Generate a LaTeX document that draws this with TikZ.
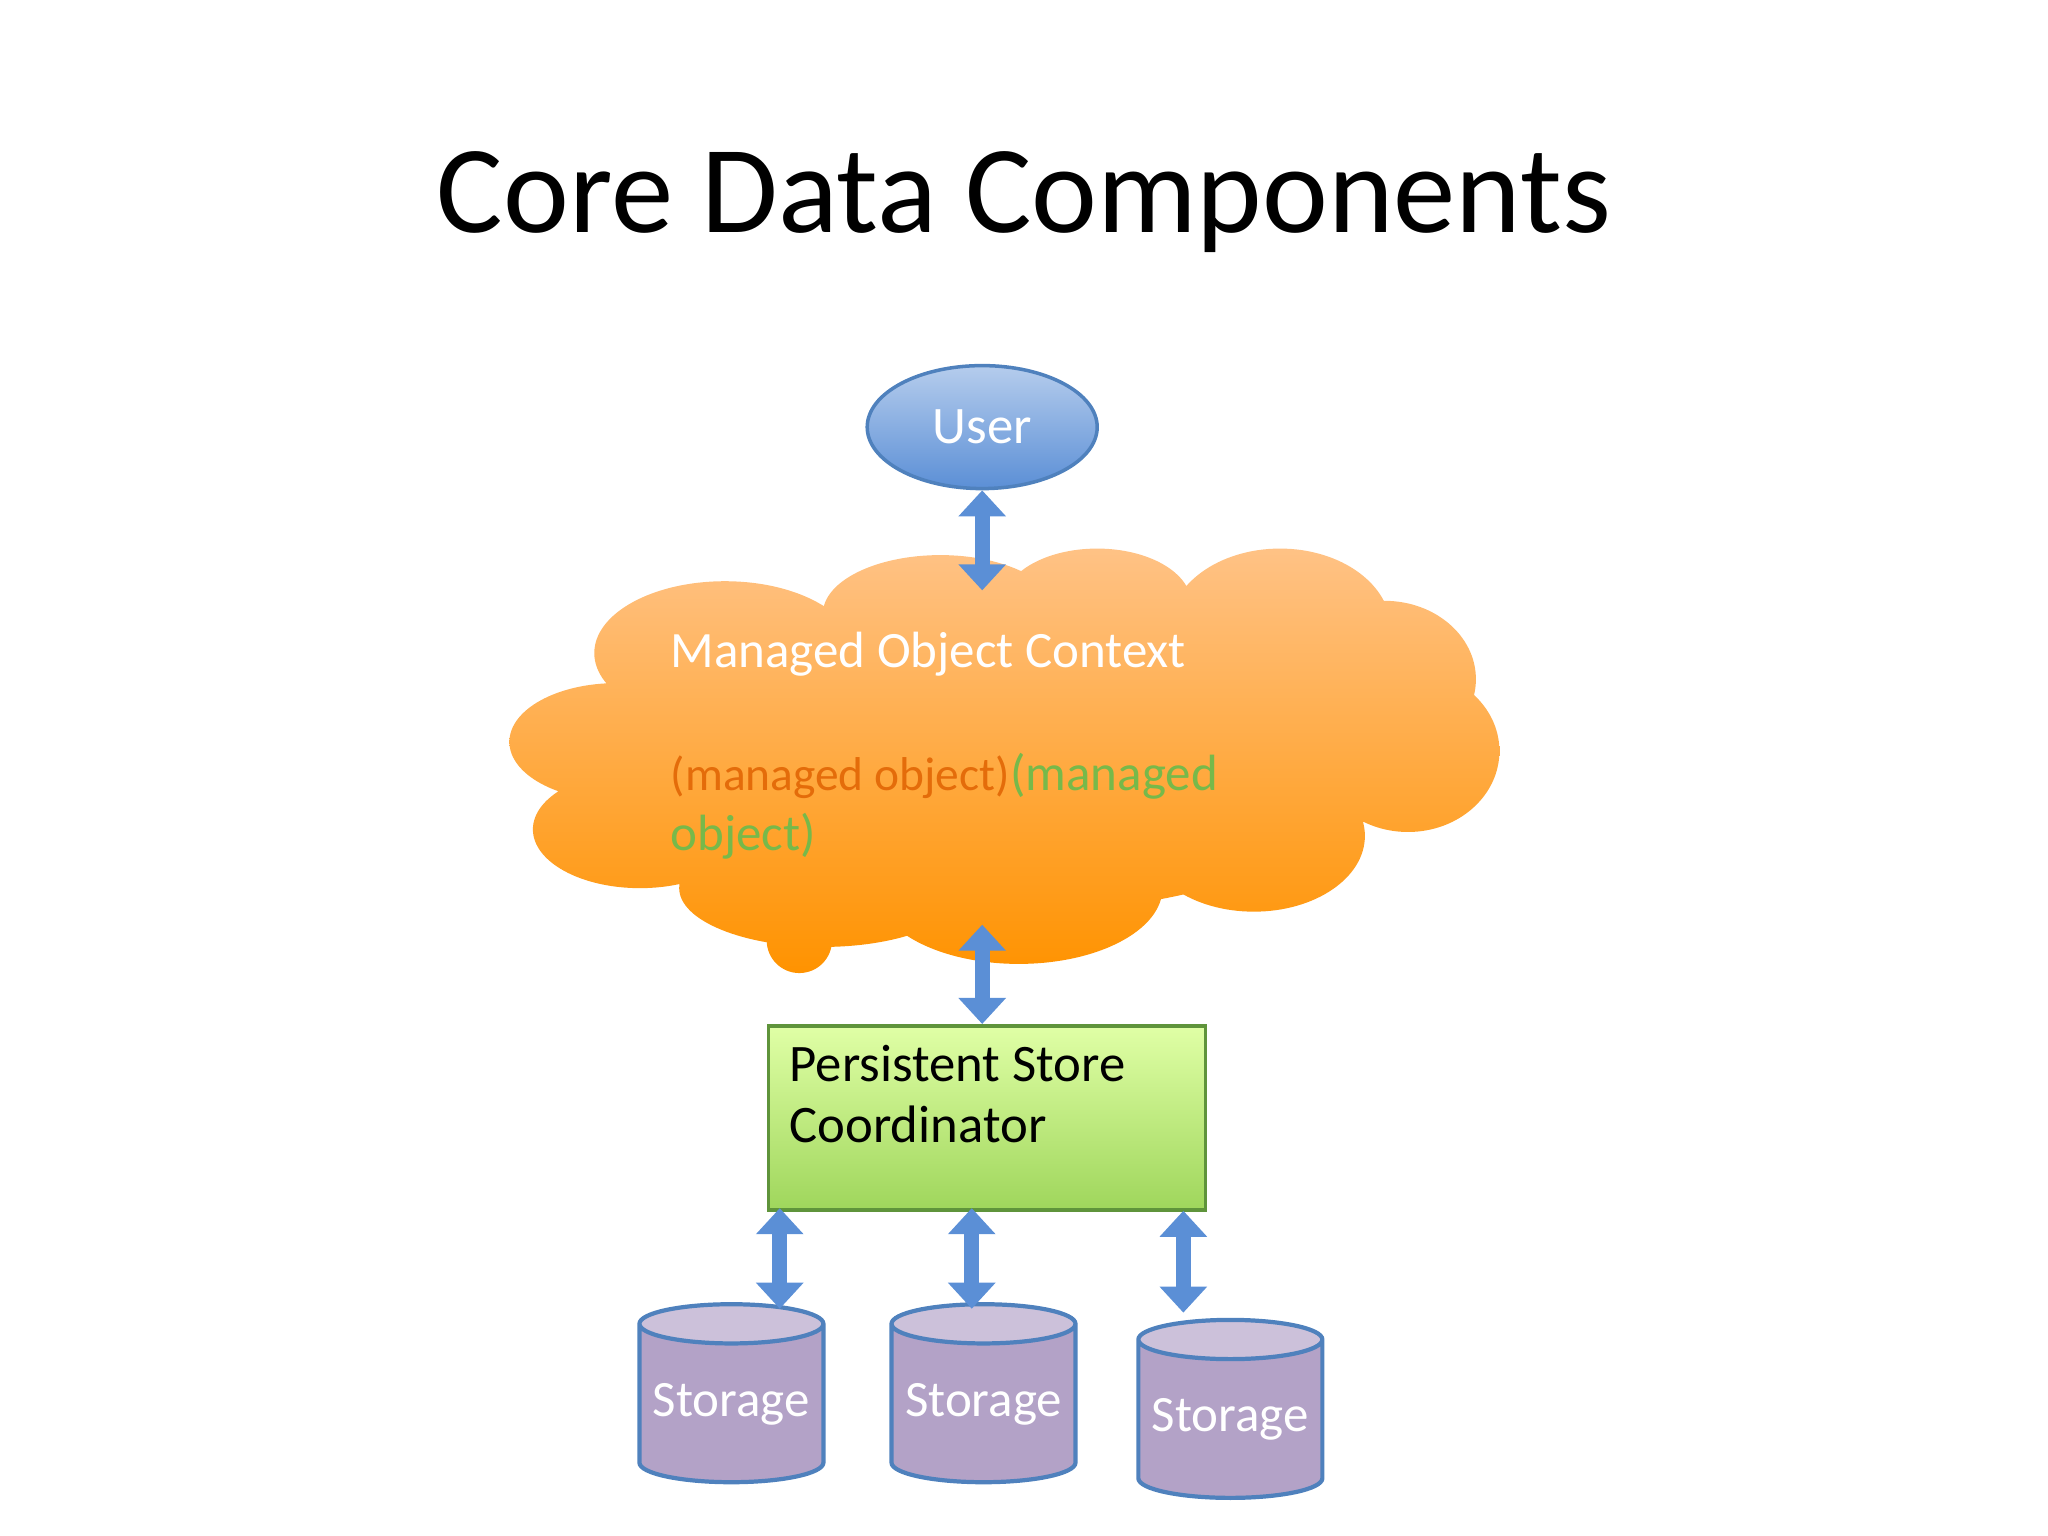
\documentclass[tikz,border=0pt]{standalone}
\usepackage{fontspec}
\setmainfont{Carlito}
\usetikzlibrary{shapes.geometric,arrows.meta}
\definecolor{arrowblue}{HTML}{5B8FD6}
\definecolor{cylfill}{HTML}{B3A2C7}
\definecolor{cyltop}{HTML}{CCC1DA}
\definecolor{cylborder}{HTML}{4F81BD}
\definecolor{moorange}{HTML}{E46C0A}
\definecolor{mogreen}{HTML}{77B94A}
\begin{document}
\begin{tikzpicture}[x=0.01306cm,y=-0.01306cm,
  conn/.style={arrowblue,line width=0.15cm,{Triangle[length=0.26cm,width=0.46cm]}-{Triangle[length=0.26cm,width=0.46cm]}},
  store/.style={cylinder,shape border rotate=90,aspect=0.25,minimum width=1.84cm,minimum height=1.78cm,inner sep=0pt,
    draw=cylborder,line width=1.2pt,cylinder uses custom fill,cylinder body fill=cylfill,cylinder end fill=cyltop,
    text=white,font=\fontsize{14.5}{18}\selectfont}]
\useasboundingbox (0,0) rectangle (1568,1176);
\node[anchor=base,font=\fontsize{35.5}{42}\selectfont] (title) at (784,178) {Core Data Components};
% cloud
\shade[top color=orange!45!white!95!orange,bottom color=orange!85!yellow,draw=none]
 (555,500) ellipse [x radius=100,y radius=55]
 (720,470) ellipse [x radius=90,y radius=45]
 (840,462) ellipse [x radius=72,y radius=42]
 (980,482) ellipse [x radius=85,y radius=62]
 (1060,520) ellipse [x radius=70,y radius=60]
 (1078,575) ellipse [x radius=70,y radius=62]
 (472,568) ellipse [x radius=82,y radius=45]
 (490,635) ellipse [x radius=82,y radius=45]
 (630,680) ellipse [x radius=110,y radius=45]
 (780,680) ellipse [x radius=110,y radius=58]
 (960,640) ellipse [x radius=85,y radius=58]
 (760,580) ellipse [x radius=300,y radius=120]
 (612,720) circle [radius=25];
\node[anchor=base west,inner sep=0,text=white,font=\fontsize{14.5}{18}\selectfont] (moc) at (513,511) {Managed Object Context};
\node[anchor=base west,inner sep=0,text=moorange,font=\fontsize{13.5}{17}\selectfont] (mo1) at (513,605) {(managed object)};
\node[anchor=base west,inner sep=0,text=mogreen,font=\fontsize{14.5}{18}\selectfont] (mo2) at (773,605) {(managed};
\node[anchor=base west,inner sep=0,text=mogreen,font=\fontsize{14.5}{18}\selectfont] (mo3) at (513,651) {object)};
% user
\node[ellipse,minimum width=2.3cm,minimum height=1.23cm,draw=cylborder,line width=1pt,
  top color=arrowblue!45!white,bottom color=arrowblue,text=white,font=\fontsize{15}{19}\selectfont] (user) at (752,327) {User};
% psc
\node[draw=mogreen!80!black,line width=1pt,top color=green!35!yellow!35!white,bottom color=green!45!yellow!60!gray!80!white,
  minimum width=4.37cm,minimum height=1.84cm,anchor=north west] (psc) at (587,784) {};
\node[anchor=base west,inner sep=0,font=\fontsize{15}{19}\selectfont] (psct) at (604,828) {Persistent Store};
\node[anchor=base west,inner sep=0,font=\fontsize{15}{19}\selectfont] (psct2) at (604,875) {Coordinator};
% storage
\node[store] (s1) at (560,1075) {Storage};
\node[store] (s2) at (753,1075) {Storage};
\node[store] (s3) at (942,1087) {Storage};
% connectors
\coordinate (cloudtop) at (752,452);
\coordinate (cloudbot) at (752,708);
\coordinate (p1) at (597,925);
\coordinate (p2) at (744,925);
\coordinate (p3) at (906,927);
\coordinate (q1) at (597,1002);
\coordinate (q2) at (744,1002);
\coordinate (q3) at (906,1005);
\draw[conn] (user.south) -- (cloudtop);
\draw[conn] (cloudbot) -- (psc.north -| cloudbot);
\draw[conn] (p1) -- (q1);
\draw[conn] (p2) -- (q2);
\draw[conn] (p3) -- (q3);
\end{tikzpicture}
\end{document}
